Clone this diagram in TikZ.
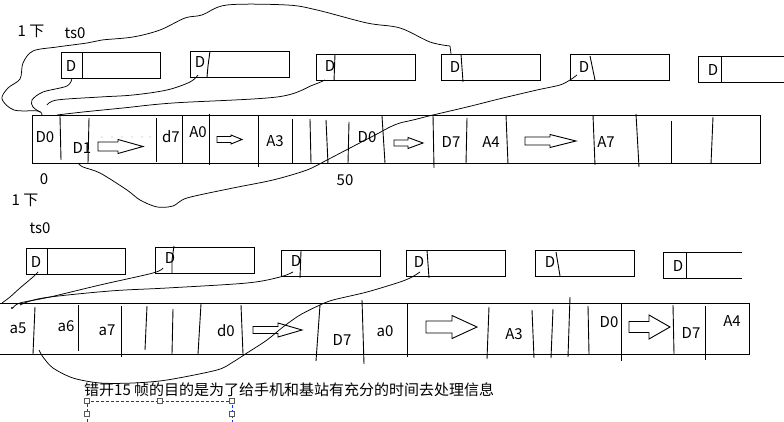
\documentclass[tikz,border=0pt]{standalone}
\usepackage{fontspec}
\setmainfont{Noto Sans CJK SC}
\newcommand\harrow[6]{\draw[ln] (#1,#4-#5)--(#2,#4-#5)--(#2,#4-#6)--(#3,#4)--(#2,#4+#6)--(#2,#4+#5)--(#1,#4+#5)--cycle;}
\begin{document}
\begin{tikzpicture}[x=1pt,y=-1pt,
  ln/.style={line width=0.9pt,black},
  fh/.style={line width=0.75pt,black},
  lbl/.style={inner sep=0pt,font=\fontsize{15}{16}\selectfont},
  hnd/.style={draw=gray!70!black,fill=white,line width=0.6pt,minimum size=4.5pt,inner sep=0pt}]
\useasboundingbox (0,0) rectangle (784,422);
\fill[white] (0,0) rectangle (784,422);
% ---------- row 1 ----------
\node[lbl] (r1a) at (31,31) {1 下};
\node[lbl] (r1ts) at (75,33) {ts0};
% small boxes
\draw[ln] (61,52) rectangle (160,78);  \draw[ln] (82,52)--(82,78);
\draw[ln] (190,51) rectangle (289,77); \draw[ln] (210,51)--(208,66)--(207,77);
\draw[ln] (316,54) rectangle (415,80); \draw[ln] (335,54)--(334,81);
\draw[ln] (441,54) rectangle (540,80); \draw[ln] (461,54)--(463,82);
\draw[ln] (570,54) rectangle (669,80); \draw[ln] (590,56)--(595,80);
\draw[ln] (784,56)--(698,56)--(698,82)--(784,82); \draw[ln] (721,56)--(721,83);
\node[lbl] (b1) at (71,66) {D};
\node[lbl] (b2) at (200,62) {D};
\node[lbl] (b3) at (330,66) {D};
\node[lbl] (b4) at (455,67) {D};
\node[lbl] (b5) at (584,67) {D};
\node[lbl] (b6) at (713,70) {D};
% strip
\draw[ln] (32,115) rectangle (760,163);
\foreach \a/\ya/\b/\yb in {60/116/61/160, 89/118/88/163, 156/118/156/162, 182/115/182/163, 209/114/209/165, 258/115/258/167, 292/119/292/163, 310/119/311/163, 326/120/328/164, 349/122/348/163, 382/116/385/163, 433/115/434/168, 467/118/466/164, 506/115/508/164, 593/115/595/165, 636/114/639/167, 671/121/671/163, 713/117/711/164}
  \draw[ln] (\a,\ya)--(\b,\yb);
\node[lbl] (s1) at (45,137) {D0};
\node[lbl] (s2) at (82,148) {D1};
\node[lbl] (s3) at (171,137) {d7};
\node[lbl] (s4) at (198,132) {A0};
\node[lbl] (s5) at (275,141) {A3};
\node[lbl] (s6) at (367,137) {D0};
\node[lbl] (s7) at (451,142) {D7};
\node[lbl] (s8) at (491,142) {A4};
\node[lbl] (s9) at (606,142) {A7};
\foreach \x in {102,112,122,132,142,150} \fill (\x,137) circle (0.45pt);
\harrow{98}{118}{143}{146.5}{4.5}{7}
\harrow{217}{231}{242}{139.5}{3}{4.5}
\harrow{394}{408}{423}{143}{3}{5.5}
\harrow{525}{550}{576}{141}{4}{6.5}
\node[lbl] (n0) at (44,179) {0};
\node[lbl] (n50) at (345,180) {50};
% freehand curves row 1
\draw[fh] plot[smooth,tension=0.55] coordinates {(42,115) (38,111) (14,110) (2,99) (8,88) (20,79) (23,63) (33,51) (57,47) (87,43) (102,40) (133,37) (160,30) (185,18) (202,15) (227,5) (287,5) (317,10) (367,23) (400,28) (430,42) (450,46)} -- (451,54);
\draw[fh] plot[smooth,tension=0.55] coordinates {(72,78) (67,86) (43,92) (32,100) (33,107) (40,112)};
\draw[fh] plot[smooth,tension=0.55] coordinates {(198,75) (190,82) (167,90) (133,95) (100,97) (57,100) (47,105)};
\draw[fh] plot[smooth,tension=0.55] coordinates {(325,80) (313,85) (277,97) (173,103) (123,108) (83,112) (57,115)};
\draw[fh] plot[smooth,tension=0.5] coordinates {(577,75) (570,80) (560,85) (537,90) (503,98) (467,107) (433,115) (413,120) (400,123) (390,127) (377,134) (350,148) (327,160) (307,170) (273,180) (233,188) (187,198) (173,206) (157,207) (140,200) (127,190) (100,173) (83,167) (78,163)};
% ---------- row 2 ----------
\node[lbl] (r2a) at (25,200) {1 下};
\node[lbl] (r2ts) at (40,228) {ts0};
\draw[ln] (26,248) rectangle (125,274);  \draw[ln] (47,248)--(47,274);
\draw[ln] (155,247) rectangle (254,273); \draw[ln] (174,246)--(172,260)--(172,273);
\draw[ln] (281,250) rectangle (380,276); \draw[ln] (301,251)--(300,278);
\draw[ln] (406,250) rectangle (505,276); \draw[ln] (427,250)--(429,278);
\draw[ln] (535,250) rectangle (634,276); \draw[ln] (556,252)--(560,276);
\draw[ln] (742,252)--(663,252)--(663,278)--(742,278); \draw[ln] (686,252)--(686,279);
\node[lbl] (c1) at (36,262) {D};
\node[lbl] (c2) at (170,258) {D};
\node[lbl] (c3) at (296,261) {D};
\node[lbl] (c4) at (419,262) {D};
\node[lbl] (c5) at (550,262) {D};
\node[lbl] (c6) at (678,266) {D};
\draw[ln] (0,303)--(749,303)--(749,354)--(0,354);
\foreach \a/\ya/\b/\yb in {35/307/33/354, 78/305/78/351, 121/306/121/357, 147/306/145/350, 173/309/172/354, 201/304/198/354, 241/305/243/354, 320/305/316/361, 362/300/364/364, 407/303/407/357, 489/307/487/359, 532/310/534/358, 553/309/551/358, 570/297/568/357, 588/306/589/354, 621/303/621/361, 673/305/674/354, 705/306/705/360}
  \draw[ln] (\a,\ya)--(\b,\yb);
\node[lbl] (t1) at (18,328) {a5};
\node[lbl] (t2) at (66,326) {a6};
\node[lbl] (t3) at (107,330) {a7};
\node[lbl] (t4) at (226,331) {d0};
\node[lbl] (t5) at (342,340) {D7};
\node[lbl] (t6) at (385,331) {a0};
\node[lbl] (t7) at (514,334) {A3};
\node[lbl] (t8) at (609,322) {D0};
\node[lbl] (t9) at (691,333) {D7};
\node[lbl] (t10) at (732,321) {A4};
\harrow{253}{278}{302}{330}{3.5}{7}
\harrow{426}{452}{477}{327}{6}{11.5}
\harrow{629}{649}{670}{327}{5.5}{12}
% freehand curves row 2
\draw[fh] plot[smooth,tension=0.55] coordinates {(38,272) (33,277) (20,288) (10,297) (2,303)};
\draw[fh] plot[smooth,tension=0.55] coordinates {(163,268) (153,273) (100,285) (50,297) (20,303) (13,308)};
\fill (12,308) circle (1.2pt);
\draw[fh] plot[smooth,tension=0.55] coordinates {(293,272) (280,277) (247,283) (167,288) (110,291) (43,298) (20,305)};
\draw[fh] plot[smooth,tension=0.5] coordinates {(420,272) (412,277) (400,282) (367,292) (333,300) (320,305) (300,315) (283,327) (267,340) (247,353) (233,362) (217,370) (167,380) (133,383) (100,383) (73,378) (53,368) (43,357) (39,350)};
% caption
\node[lbl,anchor=west] (cap) at (84,390) {错开15 帧的目的是为了给手机和基站有充分的时间去处理信息};
\draw[blue!80!cyan,line width=0.8pt,dash pattern=on 3pt off 2pt] (87,422)--(87,401)--(232,401)--(232,422);
\foreach \p/\q [count=\i] in {87/401,160/401,232/401,87/414,232/414}
  \node[hnd] (h\i) at (\p,\q) {};
\end{tikzpicture}
\end{document}
